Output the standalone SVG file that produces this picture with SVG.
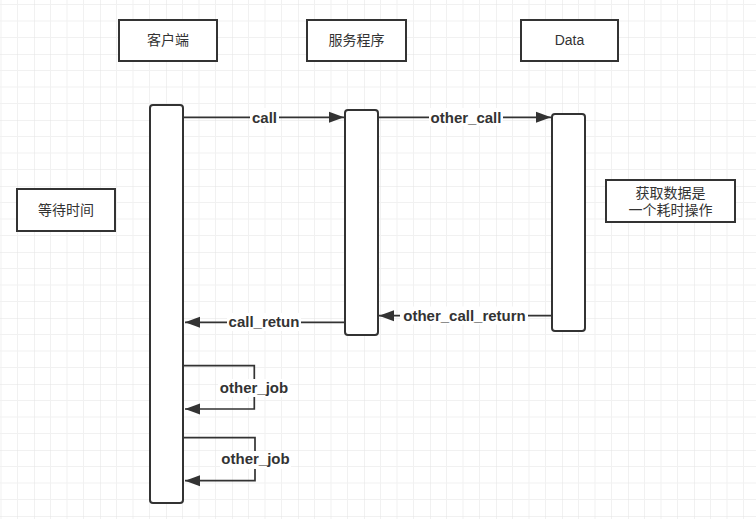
<svg xmlns="http://www.w3.org/2000/svg" width="756" height="519" viewBox="0 0 756 519">
  <defs>
    <pattern id="grid" x="34" y="54" width="66" height="66" patternUnits="userSpaceOnUse">
      <path d="M16.5,0 V66 M33,0 V66 M49.5,0 V66 M0,16.5 H66 M0,33 H66 M0,49.5 H66" stroke="#f1f1f1" stroke-width="1" fill="none"/>
      <path d="M0,0 V66 M0,0 H66" stroke="#e3e3e3" stroke-width="1" fill="none"/>
    </pattern>
    <marker id="arr" markerUnits="userSpaceOnUse" markerWidth="16" markerHeight="12" refX="15" refY="6" orient="auto">
      <path d="M0,0.5 L15,6 L0,11.5 Z" fill="#333"/>
    </marker>
    <style>
      .box { fill: #ffffff; stroke: #333333; stroke-width: 2; }
      .act { fill: #ffffff; stroke: #333333; stroke-width: 2; }
      .txt { font-family: "Liberation Sans", "Noto Sans CJK SC", sans-serif; font-size: 14px; fill: #333333; text-anchor: middle; }
      .line { fill: none; stroke: #333333; stroke-width: 1.7; }
      .lbl { font-family: "Liberation Sans", "Noto Sans CJK SC", sans-serif; font-size: 15px; font-weight: bold; fill: #333333; text-anchor: middle; }
      .lblbg { fill: #ffffff; }
    </style>
  </defs>
  <rect x="0" y="0" width="756" height="519" fill="#ffffff"/>
  <rect x="0" y="0" width="756" height="519" fill="url(#grid)"/>

  <g id="client-header">
    <rect class="box" x="119" y="20" width="98" height="41"/>
    <text class="txt" x="168" y="45.3">客户端</text>
  </g>
  <g id="server-header">
    <rect class="box" x="307" y="20" width="99" height="41"/>
    <text class="txt" x="356.5" y="45.3">服务程序</text>
  </g>
  <g id="data-header">
    <rect class="box" x="521" y="20" width="97" height="41"/>
    <text class="txt" x="569.5" y="45">Data</text>
  </g>
  <g id="wait-note">
    <rect class="box" x="17" y="189" width="98" height="42"/>
    <text class="txt" x="66" y="214.6">等待时间</text>
  </g>
  <g id="data-note">
    <rect class="box" x="606" y="180" width="129" height="42"/>
    <text class="txt" x="670.5" y="197.6">获取数据是</text>
    <text class="txt" x="670.5" y="215.3">一个耗时操作</text>
  </g>

  <g id="client-activation">
    <rect class="act" x="150" y="105" width="33" height="398" rx="3"/>
  </g>
  <g id="server-activation">
    <rect class="act" x="345" y="110" width="33" height="225" rx="3"/>
  </g>
  <g id="data-activation">
    <rect class="act" x="552" y="114" width="33" height="217" rx="3"/>
  </g>

  <g id="connectors">
    <g id="call">
      <path class="line" d="M183,117.3 H344" marker-end="url(#arr)"/>
      <rect class="lblbg" x="250" y="108" width="29" height="18"/>
      <text class="lbl" x="264.5" y="122.5">call</text>
    </g>
    <g id="other_call">
      <path class="line" d="M378,117.3 H551" marker-end="url(#arr)"/>
      <rect class="lblbg" x="429" y="108" width="74" height="18"/>
      <text class="lbl" x="466" y="122.5">other_call</text>
    </g>
    <g id="other_call_return">
      <path class="line" d="M552,315.7 H379" marker-end="url(#arr)"/>
      <rect class="lblbg" x="400" y="306.5" width="128" height="18"/>
      <text class="lbl" x="464.5" y="320.7">other_call_return</text>
    </g>
    <g id="call_retun">
      <path class="line" d="M345,322.3 H185" marker-end="url(#arr)"/>
      <rect class="lblbg" x="227" y="313" width="74" height="18"/>
      <text class="lbl" x="264" y="327">call_retun</text>
    </g>
    <g id="other_job_1">
      <path class="line" d="M183,365.7 H254.3 V409 H185" marker-end="url(#arr)"/>
      <rect class="lblbg" x="218" y="379" width="72" height="18"/>
      <text class="lbl" x="254" y="392.7">other_job</text>
    </g>
    <g id="other_job_2">
      <path class="line" d="M183,437.7 H255 V480.7 H185" marker-end="url(#arr)"/>
      <rect class="lblbg" x="220" y="451" width="71" height="18"/>
      <text class="lbl" x="255.5" y="464.3">other_job</text>
    </g>
  </g>
</svg>
